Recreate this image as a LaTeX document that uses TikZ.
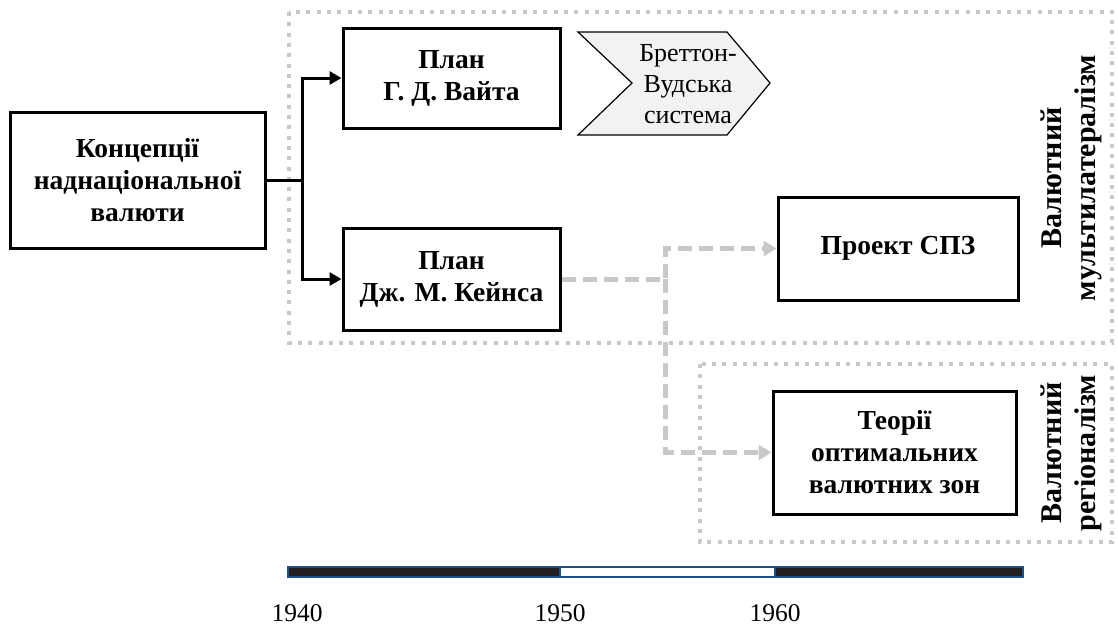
\documentclass[tikz,border=0pt]{standalone}
\usepackage{fontspec}
\setmainfont{Liberation Serif}
\usepackage{xcolor}
\usetikzlibrary{arrows.meta}

\definecolor{zonegray}{HTML}{C8C8C8}
\definecolor{chevfill}{HTML}{F2F2F2}
\definecolor{barblue}{HTML}{1F4E8C}
\definecolor{bardark}{HTML}{231F20}

\tikzset{
  concept/.style={draw, line width=3pt, align=center, inner sep=0pt,
    font=\fontsize{27.5}{32}\selectfont\bfseries},
  link/.style={line width=3pt, -{Triangle[length=12pt,width=13pt]}},
  later/.style={zonegray, line width=5pt, dash pattern=on 14pt off 7pt,
    -{Triangle[length=13pt,width=15pt]}},
  zone/.style={zonegray, line width=4pt, dash pattern=on 4pt off 6.3pt},
  zonelabel/.style={rotate=90, align=center, inner sep=0pt,
    font=\fontsize{30}{34}\selectfont\bfseries},
  year/.style={anchor=base, inner sep=0pt, font=\fontsize{25.5}{30}\selectfont},
  barpart/.style={draw=barblue, line width=1.5pt},
}

\begin{document}
\begin{tikzpicture}[x=1pt,y=-1pt]
            \useasboundingbox (0,0) rectangle (1118,625);

            % zones
            \draw[zone] (289,12) rectangle (1112,343);
            \draw[zone] (700,364) rectangle (1112,542);
            \node[zonelabel] (multi) at (1071,178) {Валютний\\мультилатералізм};
            \node[zonelabel] (region) at (1071,453) {Валютний\\регіоналізм};

            % boxes
            \node[concept, minimum width=255pt, minimum height=136pt] (conc) at (137.5,180) {Концепції\\наднаціональної\\валюти};
            \node[concept, minimum width=217pt, minimum height=100pt] (white) at (451.5,78) {План\\Г. Д. Вайта};
            \node[concept, minimum width=217pt, minimum height=102pt] (keynes) at (451.5,279) {План\\Дж. М. Кейнса};
            \node[concept, minimum width=240pt, minimum height=103pt] (sdr) at (898,248.5) {Проект СПЗ};
            \node[concept, minimum width=243pt, minimum height=123pt] (oca) at (894.5,452.5) {Теорії\\оптимальних\\валютних зон};

            % Bretton Woods
            \draw[line width=1.2pt, fill=chevfill] (578,32) -- (727,32) -- (770,83) -- (727,135) -- (578,135) -- (632,83) -- cycle;
            \node[align=center, inner sep=0pt, font=\fontsize{26}{31}\selectfont] (bw) at (688,84) {Бреттон-\\Вудська\\система};

            % connectors
            \coordinate (fork) at (302,180);
            \draw[line width=3pt] (conc.east) -- (fork);
            \draw[link] (fork) |- (white.west);
            \draw[link] (fork) |- (keynes.west);

            \coordinate (split) at (665,279);
            \draw[later] (keynes.east) -- (split) |- (sdr.west);
            \draw[later] (split) |- (oca.west);

            % time line
            \draw[barpart, fill=bardark] (288,567) rectangle (560,577);
            \draw[barpart, fill=white] (560,567) rectangle (775,577);
            \draw[barpart, fill=bardark] (775,567) rectangle (1023,577);
            \node[year] (y1940) at (297,621) {1940};
            \node[year] (y1950) at (560,621) {1950};
            \node[year] (y1960) at (775,621) {1960};
        \end{tikzpicture}
\end{document}
